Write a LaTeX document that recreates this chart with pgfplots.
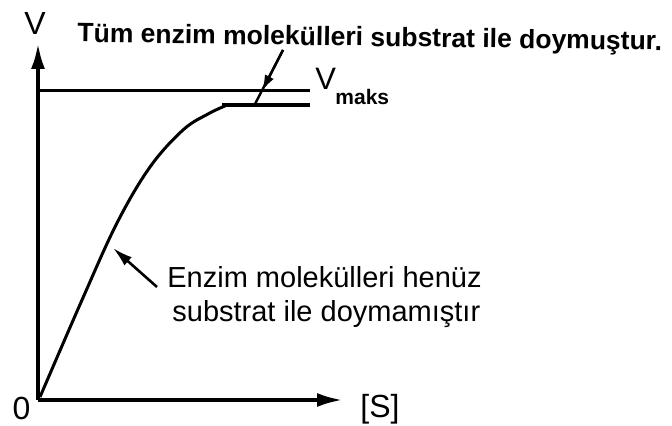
\documentclass[border=0pt]{standalone}
\usepackage{fontspec}
\setmainfont{Liberation Sans}
\usepackage{pgfplots}
\pgfplotsset{compat=1.18}
\usetikzlibrary{arrows.meta}

% Michaelis-Menten style saturation curve: V against [S]
\pgfplotstableread{
x y
2 3
44 100
79 177
112 233
145 270
170 286
187 294
}\rise
\pgfplotstableread{
x y
184 295
272 295
}\plateau
\pgfplotstableread{
x y
0 309.5
272 309.5
}\vmax

\begin{document}
\begin{tikzpicture}
\begin{axis}[
  x=0.5pt, y=0.5pt,
  xmin=0, xmax=305, ymin=0, ymax=357,
  axis lines=left,
  axis line style={line width=2pt, -{Latex[length=13pt,width=7pt]}},
  xtick=\empty, ytick=\empty,
  enlargelimits=false,
  clip=false,
]
\addplot[black, line width=1.5pt, smooth, tension=0.6] table {\rise};
\addplot[black, line width=2.3pt] table {\plateau};
\addplot[black, line width=1.6pt] table {\vmax};

% annotation arrows
\draw[line width=1.2pt] (axis cs:245,350) -- (axis cs:217,296);
\draw[line width=1.2pt, -{Latex[length=8pt,width=5pt]}] (axis cs:245,350) -- (axis cs:224,309);
\draw[line width=1.3pt, -{Latex[length=10pt,width=5.5pt]}] (axis cs:119,113) -- (axis cs:75,152);

% labels
\node[anchor=base west, inner sep=0pt, rotate=-0.8,
      font=\fontsize{13.25}{15}\selectfont\bfseries]
  at (axis cs:39,358) {Tüm enzim molekülleri substrat ile doymuştur.};
\node[anchor=base west, inner sep=0pt, font=\fontsize{14.5}{17}\selectfont]
  at (axis cs:129,112) {Enzim molekülleri henüz};
\node[anchor=base west, inner sep=0pt, font=\fontsize{14.5}{17}\selectfont]
  at (axis cs:134,78) {substrat ile doymamıştır};
\node[anchor=base, inner sep=0pt, font=\fontsize{16}{18}\selectfont]
  at (axis cs:-3,365) {V};
\node[anchor=base, inner sep=0pt, font=\fontsize{16}{18}\selectfont]
  at (axis cs:-16.5,-20) {0};
\node[anchor=base west, inner sep=0pt, font=\fontsize{16}{18}\selectfont]
  at (axis cs:322,-18) {[S]};
\node[anchor=base west, inner sep=0pt, font=\fontsize{15.5}{18}\selectfont]
  at (axis cs:277,310) {V};
\node[anchor=base west, inner sep=0pt, font=\fontsize{10.5}{12}\selectfont\bfseries]
  at (axis cs:297,295) {maks};

\coordinate (bl) at (axis cs:-38,-26);
\coordinate (tr) at (axis cs:634,400);
\end{axis}
\pgfresetboundingbox
\path (bl) rectangle (tr);
\end{tikzpicture}
\end{document}
